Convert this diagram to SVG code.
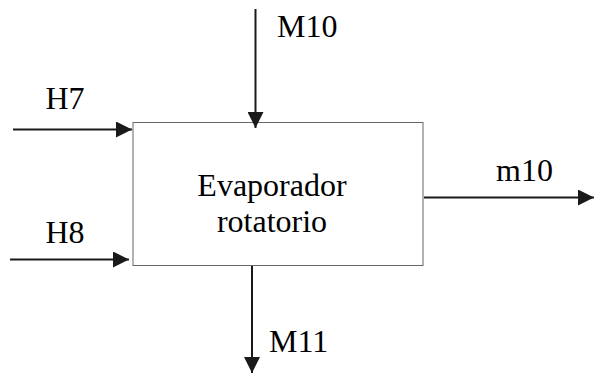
<svg xmlns="http://www.w3.org/2000/svg" width="594" height="374" viewBox="0 0 594 374">
<style>
.t{font-family:'Liberation Serif','Times New Roman',Times,'DejaVu Serif',serif;font-size:32px;fill:#000}
.c{stroke:#1a1a1a;stroke-width:2;fill:none}
</style>
<defs>
<marker id="ah" markerUnits="userSpaceOnUse" markerWidth="17" markerHeight="16" refX="16" refY="8" orient="auto">
<path d="M0,0 L16,8 L0,16 Z" fill="#1a1a1a"/>
</marker>
</defs>
<rect width="594" height="374" fill="#fff"/>
<g id="box">
<rect x="133" y="122.5" width="290" height="143" fill="#fff" stroke="#666" stroke-width="1"/>
<text class="t" x="272" y="196" text-anchor="middle" font-family="Liberation Serif">Evaporador</text>
<text class="t" x="272" y="231.5" text-anchor="middle" font-family="Liberation Serif">rotatorio</text>
</g>
<g id="connectors">
<line class="c" x1="13" y1="129.5" x2="132" y2="129.5" marker-end="url(#ah)"/>
<line class="c" x1="10" y1="259.5" x2="129" y2="259.5" marker-end="url(#ah)"/>
<line class="c" x1="255.5" y1="9" x2="255.5" y2="128" marker-end="url(#ah)"/>
<line class="c" x1="252" y1="266" x2="252" y2="373" marker-end="url(#ah)"/>
<line class="c" x1="424" y1="197.5" x2="594" y2="197.5" marker-end="url(#ah)"/>
</g>
<g id="labels">
<text class="t" x="277" y="37">M10</text>
<text class="t" x="45.5" y="109">H7</text>
<text class="t" x="45.5" y="243">H8</text>
<text class="t" x="496" y="180.5">m10</text>
<text class="t" x="269" y="351.5">M11</text>
</g>
</svg>
